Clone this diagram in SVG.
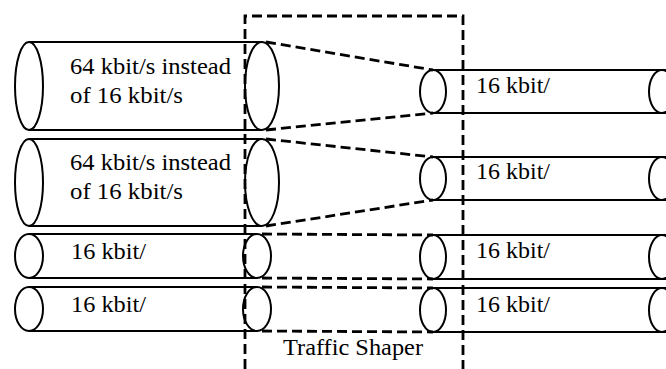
<svg xmlns="http://www.w3.org/2000/svg" width="666" height="369" viewBox="0 0 666 369">
<style>
.c{fill:none;stroke:#000;stroke-width:2}
.d{fill:none;stroke:#000;stroke-width:2.8;stroke-dasharray:10 5}
.t{font-family:"Liberation Serif","Times New Roman",serif;font-size:23px;fill:#000}
</style>
<rect width="666" height="369" fill="#fff"/>
<g id="in1">
<path class="c" d="M29,42H262M29,130H262"/>
<ellipse class="c" cx="29" cy="86" rx="14" ry="44"/>
<ellipse class="c" cx="262" cy="86" rx="17" ry="44"/>
<text class="t" x="70" y="74" textLength="161" lengthAdjust="spacingAndGlyphs">64 kbit/s instead</text>
<text class="t" x="70" y="103" textLength="113" lengthAdjust="spacingAndGlyphs">of 16 kbit/s</text>
</g>
<g id="in2">
<path class="c" d="M29,139H262M29,226H262"/>
<ellipse class="c" cx="29" cy="182.5" rx="14" ry="43.5"/>
<ellipse class="c" cx="262" cy="182.5" rx="17" ry="43.5"/>
<text class="t" x="70" y="170" textLength="161" lengthAdjust="spacingAndGlyphs">64 kbit/s instead</text>
<text class="t" x="70" y="199" textLength="113" lengthAdjust="spacingAndGlyphs">of 16 kbit/s</text>
</g>
<g id="in3">
<path class="c" d="M29,234H257M29,278H257"/>
<ellipse class="c" cx="29" cy="256" rx="14" ry="22"/>
<ellipse class="c" cx="257" cy="256" rx="14" ry="22"/>
<text class="t" x="71" y="259" textLength="75" lengthAdjust="spacingAndGlyphs">16 kbit/</text>
</g>
<g id="in4">
<path class="c" d="M29,287H257M29,331H257"/>
<ellipse class="c" cx="29" cy="309" rx="14" ry="22"/>
<ellipse class="c" cx="257" cy="309" rx="14" ry="22"/>
<text class="t" x="71" y="312" textLength="75" lengthAdjust="spacingAndGlyphs">16 kbit/</text>
</g>
<g id="out1">
<path class="c" d="M433,70H666M433,113H666"/>
<ellipse class="c" cx="433" cy="91.5" rx="13" ry="21.5"/>
<ellipse class="c" cx="662" cy="91.5" rx="13" ry="21.5"/>
<text class="t" x="476" y="93" textLength="74" lengthAdjust="spacingAndGlyphs">16 kbit/</text>
</g>
<g id="out2">
<path class="c" d="M433,157H666M433,200H666"/>
<ellipse class="c" cx="433" cy="178.5" rx="13" ry="21.5"/>
<ellipse class="c" cx="662" cy="178.5" rx="13" ry="21.5"/>
<text class="t" x="476" y="179" textLength="74" lengthAdjust="spacingAndGlyphs">16 kbit/</text>
</g>
<g id="out3">
<path class="c" d="M433,235H666M433,279H666"/>
<ellipse class="c" cx="433" cy="257" rx="13" ry="22"/>
<ellipse class="c" cx="662" cy="257" rx="13" ry="22"/>
<text class="t" x="476" y="258" textLength="74" lengthAdjust="spacingAndGlyphs">16 kbit/</text>
</g>
<g id="out4">
<path class="c" d="M433,288H666M433,332H666"/>
<ellipse class="c" cx="433" cy="310" rx="13" ry="22"/>
<ellipse class="c" cx="662" cy="310" rx="13" ry="22"/>
<text class="t" x="476" y="312" textLength="74" lengthAdjust="spacingAndGlyphs">16 kbit/</text>
</g>
<g id="shaper">
<path class="d" d="M245,369V16H463V369"/>
<text class="t" x="283" y="355" textLength="140" lengthAdjust="spacingAndGlyphs">Traffic Shaper</text>
</g>
<g id="connectors">
<path class="d" d="M266,42L433,70M266,130L433,113M266,139L433,157M266,226L433,200M262,234L433,235M262,278L433,279M262,287L433,288M262,331L433,332"/>
</g>
</svg>
